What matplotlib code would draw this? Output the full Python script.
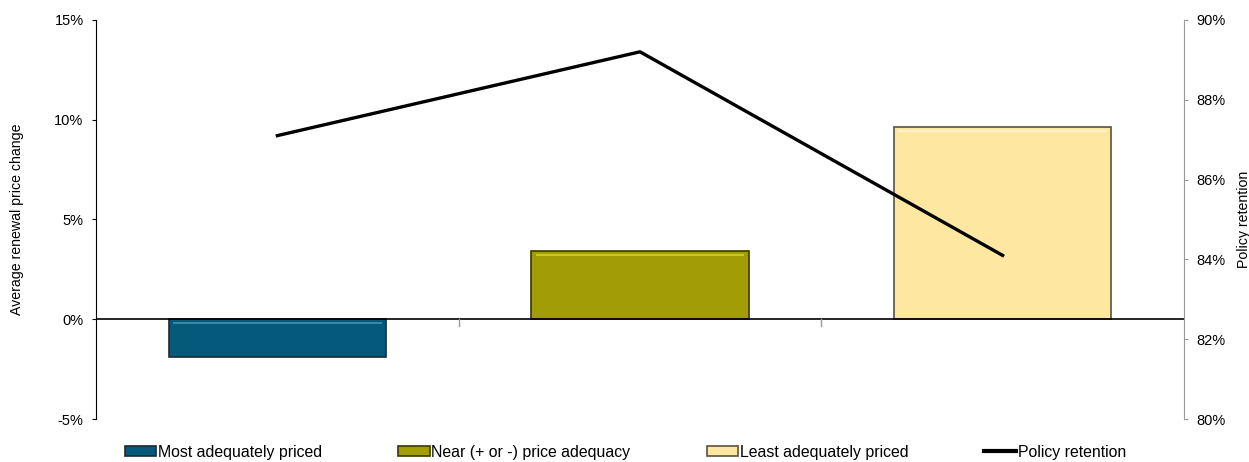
import matplotlib
matplotlib.use("Agg")
import matplotlib.pyplot as plt
from matplotlib.ticker import FuncFormatter
from matplotlib.lines import Line2D
from matplotlib.patches import Patch

plt.rcParams['font.family'] = ['Liberation Sans', 'DejaVu Sans']

# data
categories = ["Most adequately priced", "Near (+ or -) price adequacy", "Least adequately priced"]
price_change = [-1.9, 3.4, 9.65]          # %
retention = [87.1, 89.2, 84.1]            # %
bar_colors = ["#05597b", "#a39d05", "#fee8a1"]
edge_colors = ["#1f2a30", "#3a3800", "#5a5240"]
light_colors = ["#3f86a3", "#c9c33a", "#fff3c8"]

fig = plt.figure(figsize=(12.49, 4.62), dpi=100)
ax = fig.add_axes([0.0769, 0.093, 0.871, 0.864])
x = list(range(len(categories)))

bars = ax.bar(x, price_change, width=0.6, color=bar_colors, edgecolor=edge_colors, linewidth=1.2, zorder=2)
# light bevel line just inside the top edge of each bar
for b, lc in zip(bars, light_colors):
    top = max(b.get_y(), b.get_y() + b.get_height())
    ax.plot([b.get_x() + 0.012, b.get_x() + b.get_width() - 0.012], [top - 0.2, top - 0.2],
            color=lc, lw=1.5, zorder=2.5, solid_capstyle='butt')

ax.set_xlim(-0.5, 2.5)
ax.set_ylim(-5, 15)
ax.set_yticks([-5, 0, 5, 10, 15])
ax.yaxis.set_major_formatter(FuncFormatter(lambda v, p: "%d%%" % v))
ax.tick_params(axis='y', labelsize=10.5, length=3, direction='out', pad=6, colors='black')
ax.set_ylabel("Average renewal price change", fontsize=10.2)
ax.yaxis.set_label_coords(-0.066, 0.5)

# zero line acting as category axis
ax.axhline(0, color='black', lw=1.2, zorder=3)
for b in [0.5, 1.5]:
    ax.plot([b, b], [0, -0.35], color='#999999', lw=1, zorder=3)
ax.set_xticks([])
for s in ['top', 'bottom', 'right']:
    ax.spines[s].set_visible(False)
ax.spines['left'].set_color('black')

ax2 = ax.twinx()
ax2.plot(x, retention, color='black', lw=2.4, zorder=4)
ax2.set_ylim(80, 90)
ax2.set_yticks([80, 82, 84, 86, 88, 90])
ax2.yaxis.set_major_formatter(FuncFormatter(lambda v, p: "%d%%" % v))
ax2.tick_params(axis='y', labelsize=10.5, length=3, direction='out', pad=6, colors='#999999', labelcolor='black')
ax2.set_ylabel("Policy retention", fontsize=10.2)
ax2.yaxis.set_label_coords(1.0485, 0.5)
for s in ['top', 'bottom', 'left']:
    ax2.spines[s].set_visible(False)
ax2.spines['right'].set_color('#999999')

handles = [Patch(facecolor=bar_colors[i], edgecolor=edge_colors[i], linewidth=1.2) for i in range(3)]
handles.append(Line2D([0], [0], color='black', lw=3))
fig.legend(handles, categories + ["Policy retention"], loc='lower left', bbox_to_anchor=(0.0885, -0.026),
           ncol=4, frameon=False, fontsize=11.4, handlelength=2.0, handleheight=0.6,
           handletextpad=0.1, columnspacing=4.8)

fig.savefig("out.png", dpi=100)
